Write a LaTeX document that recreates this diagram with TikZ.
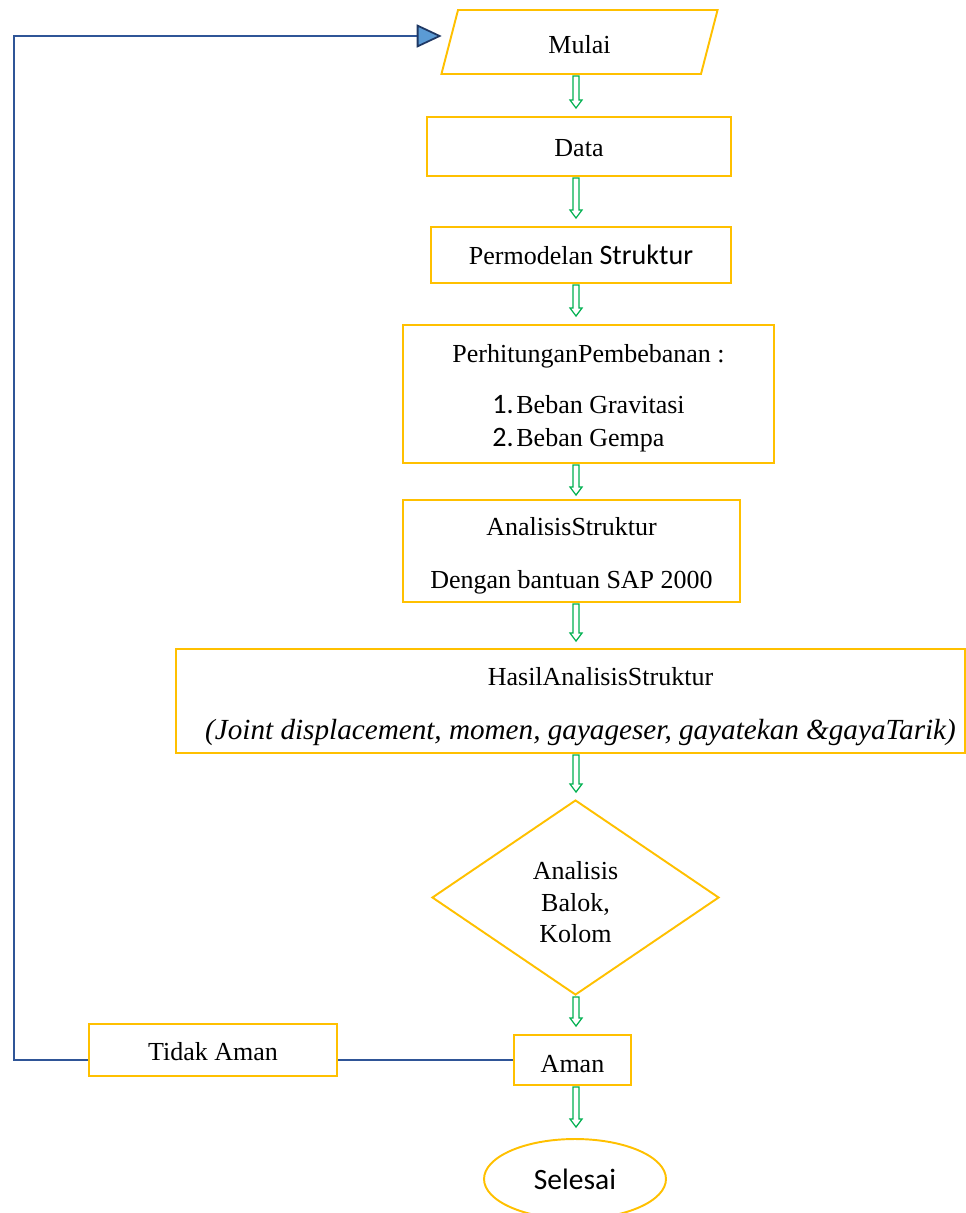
\documentclass[tikz,border=0pt]{standalone}
\usepackage{fontspec}
\setmainfont{Liberation Serif}
\newfontfamily\calibri{Carlito}
\usetikzlibrary{positioning,calc,shapes.geometric,arrows.meta}
\definecolor{boxorange}{HTML}{FFC000}
\definecolor{flowgreen}{HTML}{00B050}
\definecolor{linenavy}{HTML}{2F5597}
\definecolor{tipnavy}{HTML}{1F3864}
\definecolor{tipblue}{HTML}{5B9BD5}

\begin{document}
\begin{tikzpicture}[x=0.02cm,y=-0.02cm,
    box/.style={draw=boxorange,line width=1.1pt,align=center,inner sep=2pt,font=\fontsize{14.8}{17.8}\selectfont},
    flow/.style={draw=flowgreen,line width=0.7pt,fill=white,
      to path={let \p1=(\tikztostart),\p2=(\tikztotarget) in
        (\x1-0.06cm,\y1) -- (\x1-0.06cm,\y2+0.16cm) -- (\x1-0.12cm,\y2+0.16cm) -- (\x1,\y2)
        -- (\x1+0.12cm,\y2+0.16cm) -- (\x1+0.06cm,\y2+0.16cm) -- (\x1+0.06cm,\y1) -- cycle}},
    back/.style={draw=linenavy,line width=0.7pt}]
    \useasboundingbox (0,0) rectangle (966,1213);
    \coordinate (axis) at (576,0);
    \coordinate (ret) at (14,36);
    % Flow boxes
    \node[box,trapezium,trapezium left angle=81,trapezium right angle=99,trapezium stretches=true,
      minimum width=5.54cm,minimum height=1.28cm] (mulai) at (579.5,42) {\rule{0pt}{0.45cm}Mulai};
    \node[box,minimum width=6.08cm,minimum height=1.18cm] (data) at (579,146.5) {\rule{0pt}{0.42cm}Data};
    \node[box,minimum width=6.0cm,minimum height=1.12cm] (model) at (581,255)
      {Permodelan {\calibri\fontsize{16}{18}\selectfont Struktur}};
    \node[box,minimum width=7.42cm,minimum height=2.76cm] (beban) at (588.5,394)
      {\rule{0pt}{0.6cm}PerhitunganPembebanan :\\[0.4cm]
       \begin{tabular}[t]{@{}l@{}}
         \makebox[0.48cm][l]{\calibri\fontsize{16}{18}\selectfont 1.}Beban Gravitasi\\[0.03cm]
         \makebox[0.48cm][l]{\calibri\fontsize{16}{18}\selectfont 2.}Beban Gempa
       \end{tabular}};
    \node[box,minimum width=6.74cm,minimum height=2.04cm] (analisis) at (571.5,551)
      {\rule{0pt}{0.56cm}AnalisisStruktur\\[0.43cm]Dengan bantuan SAP 2000};
    \node[box,minimum width=15.8cm,minimum height=2.08cm] (hasil) at (570.5,701)
      {\hspace*{1.2cm}\rule{0pt}{0.6cm}HasilAnalisisStruktur\\[0.46cm]\hspace*{0.4cm}{\itshape\fontsize{16.6}{19}\selectfont (Joint displacement, momen, gayageser, gayatekan \&gayaTarik)}};
    \node[box,diamond,minimum width=5.74cm,minimum height=3.9cm] (cek) at (575.5,897.5)
      {\rule{0pt}{0.55cm}Analisis\\Balok,\\Kolom};
    \node[box,minimum width=4.96cm,minimum height=1.04cm] (tidak) at (213,1050) {\rule{0pt}{0.42cm}Tidak Aman};
    \node[box,minimum width=2.34cm,minimum height=1.0cm] (aman) at (572.5,1060) {\rule{0pt}{0.5cm}Aman};
    \node[box,ellipse,minimum width=3.64cm,minimum height=1.6cm,font=\calibri\fontsize{16.8}{20}\selectfont]
      (selesai) at (575,1179) {Selesai};
    % Green arrows
    \draw[flow] ($(mulai.south -| axis)+(0,1)$) to ($(data.north -| axis)+(0,-8)$);
    \draw[flow] ($(data.south -| axis)+(0,1)$) to ($(model.north -| axis)+(0,-8)$);
    \draw[flow] ($(model.south -| axis)+(0,1)$) to ($(beban.north -| axis)+(0,-8)$);
    \draw[flow] ($(beban.south -| axis)+(0,1)$) to ($(analisis.north -| axis)+(0,-4)$);
    \draw[flow] ($(analisis.south -| axis)+(0,1)$) to ($(hasil.north -| axis)+(0,-7)$);
    \draw[flow] ($(hasil.south -| axis)+(0,1)$) to ($(cek.north -| axis)+(0,-7)$);
    \draw[flow] ($(cek.south -| axis)+(0,1)$) to ($(aman.north -| axis)+(0,-8)$);
    \draw[flow] ($(aman.south -| axis)+(0,1)$) to ($(selesai.north -| axis)+(0,-11)$);
    % Return line
    \draw[back] (aman.west) -- (aman.west -| tidak.east);
    \draw[back,shorten >=0.14cm,-{Triangle[length=0.5cm,width=0.46cm,fill=tipblue,color=tipnavy,line width=1pt]}]
      (aman.west -| tidak.west) -| (ret) -- (ret -| mulai.west);
\end{tikzpicture}
\end{document}
